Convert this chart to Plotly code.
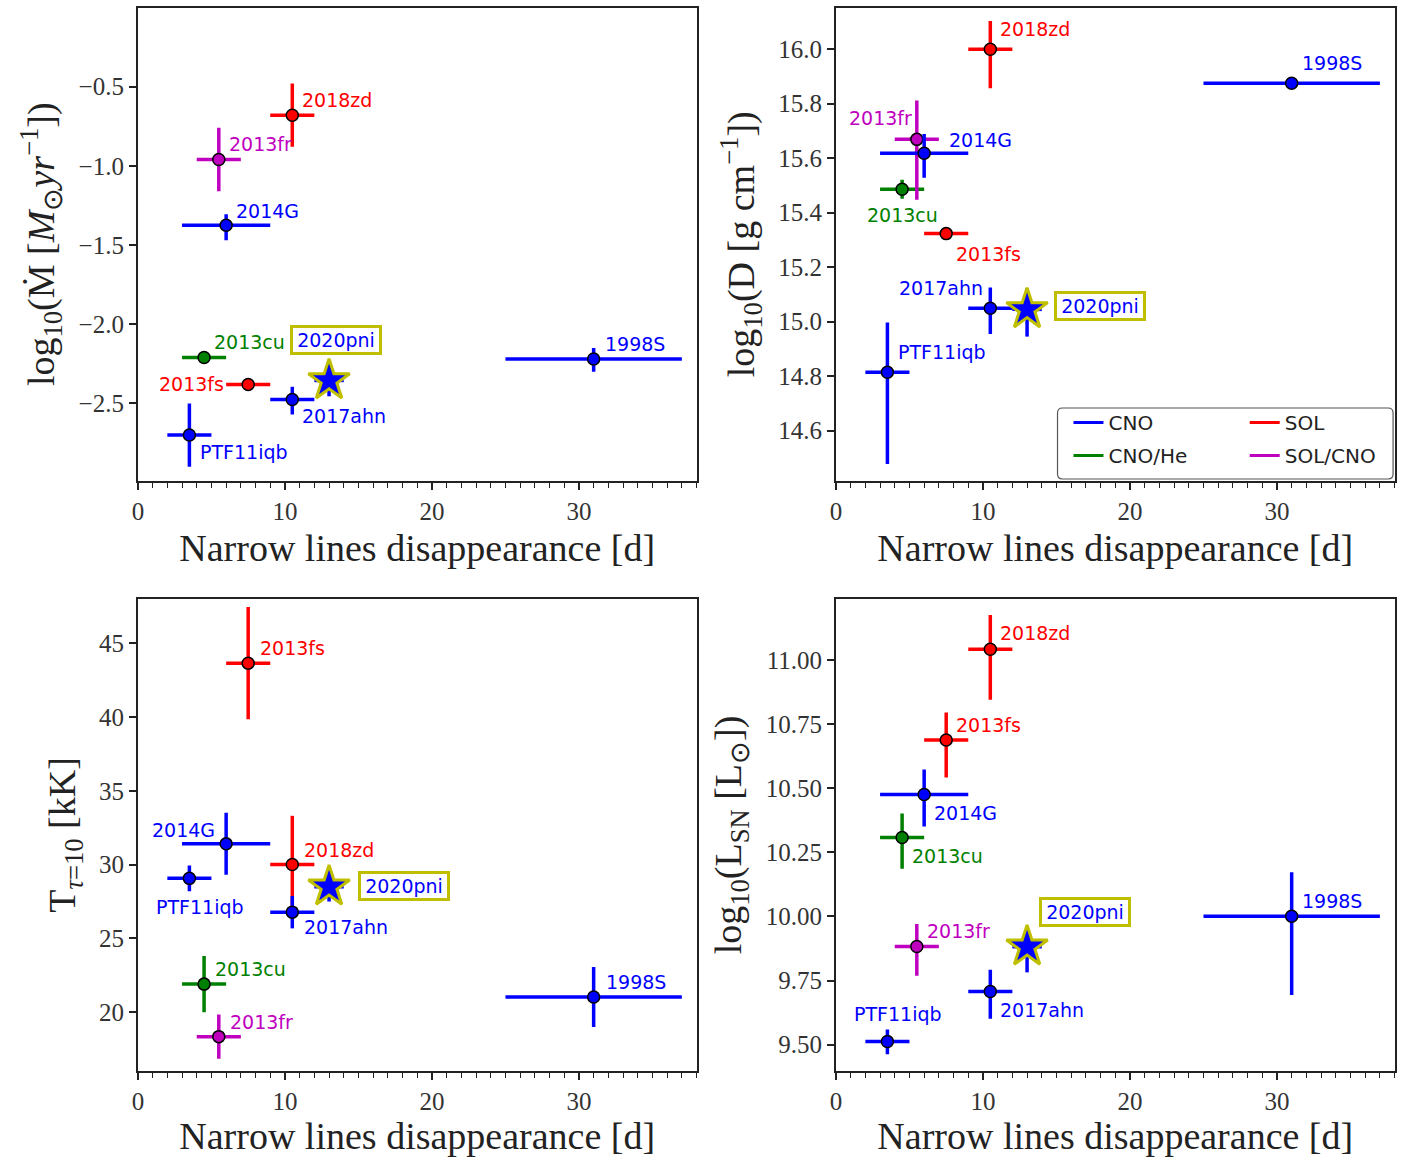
import plotly.graph_objects as go

# ---------------- data ----------------
names = ["PTF11iqb", "2013cu", "2013fr", "2014G", "2013fs", "2018zd", "2017ahn", "1998S", "2020pni"]
composition = ["CNO", "CNO/He", "SOL/CNO", "CNO", "SOL", "SOL", "CNO", "CNO", "CNO"]

t_narrow = [3.5, 4.5, 5.5, 6.0, 7.5, 10.5, 10.5, 31.0, 13.0]
t_narrow_err = [1.5, 1.5, 1.5, 3.0, 1.5, 1.5, 1.5, 6.0, 1.0]

log_mdot = [-2.70, -2.21, -0.96, -1.375, -2.38, -0.68, -2.475, -2.22, -2.355]
log_mdot_up = [0.20, 0.0, 0.20, 0.07, 0.0, 0.20, 0.08, 0.07, 0.08]
log_mdot_lo = [0.20, 0.0, 0.20, 0.095, 0.0, 0.20, 0.095, 0.08, 0.10]

log_D = [14.814, 15.486, 15.669, 15.618, 15.323, 16.0, 15.049, 15.875, 15.045]
log_D_up = [0.183, 0.035, 0.143, 0.071, 0.0, 0.103, 0.076, 0.0, 0.078]
log_D_lo = [0.337, 0.035, 0.222, 0.090, 0.0, 0.143, 0.094, 0.0, 0.100]

T_tau10 = [29.06, 21.89, 18.33, 31.4, 43.65, 30.0, 26.77, 21.02, 28.49]
T_tau10_up = [0.87, 1.9, 1.5, 2.1, 3.8, 3.3, 1.1, 2.03, 1.0]
T_tau10_lo = [0.87, 1.9, 1.5, 2.1, 3.8, 3.3, 1.1, 2.03, 1.0]

log_L = [9.512, 10.308, 9.883, 10.476, 10.689, 11.043, 9.707, 10.001, 9.882]
log_L_up = [0.047, 0.094, 0.088, 0.098, 0.107, 0.134, 0.085, 0.172, 0.08]
log_L_lo = [0.050, 0.122, 0.114, 0.125, 0.147, 0.197, 0.106, 0.307, 0.10]

legend_items = ["CNO", "SOL", "CNO/He", "SOL/CNO"]

ticks_mdot = [-2.5, -2.0, -1.5, -1.0, -0.5]
ticks_D = [14.6, 14.8, 15.0, 15.2, 15.4, 15.6, 15.8, 16.0]
ticks_T = [20, 25, 30, 35, 40, 45]
ticks_L = [9.50, 9.75, 10.00, 10.25, 10.50, 10.75, 11.00]
ticks_x = [0, 10, 20, 30]

# ---------------- styles ----------------
COLORS = {"CNO": "#0000ff", "SOL": "#ff0000", "CNO/He": "#008000", "SOL/CNO": "#bf00bf"}
STAR_EDGE = "#bfbf00"
W, H = 1413, 1157
AXCOL = "#222222"
SERIF = "Liberation Serif, Times New Roman, serif"
SANS = "DejaVu Sans, Verdana, sans-serif"

# panel pixel boxes (left, right, top, bottom)
XDOM = [(132.5, 693.5), (833.5, 1394.5)]
YDOM = [(7.5, 481.0), (599.0, 1071.0)]

# label offsets (dx px, dy px downward, xanchor) per panel
OFFS = [
    {"PTF11iqb": (9, 17, "left"), "2013cu": (8, -15, "left"), "2013fr": (8, -16, "left"),
     "2014G": (8, -14, "left"), "2013fs": (-22, 0, "right"), "2018zd": (8, -15, "left"),
     "2017ahn": (8, 17, "left"), "1998S": (9, -15, "left"), "2020pni": (-39, -40, "left")},
    {"PTF11iqb": (9, -20, "left"), "2013cu": (0, 26, "center"), "2013fr": (-3, -21, "right"),
     "2014G": (23, -13, "left"), "2013fs": (8, 20, "left"), "2018zd": (8, -20, "left"),
     "2017ahn": (-5, -20, "right"), "1998S": (8, -20, "left"), "2020pni": (27, -3, "left")},
    {"PTF11iqb": (-35, 29, "left"), "2013cu": (9, -15, "left"), "2013fr": (9, -15, "left"),
     "2014G": (-9, -14, "right"), "2013fs": (10, -15, "left"), "2018zd": (10, -15, "left"),
     "2017ahn": (10, 15, "left"), "1998S": (10, -15, "left"), "2020pni": (29, -1, "left")},
    {"PTF11iqb": (-35, -28, "left"), "2013cu": (8, 18, "left"), "2013fr": (8, -15, "left"),
     "2014G": (8, 18, "left"), "2013fs": (8, -15, "left"), "2018zd": (8, -16, "left"),
     "2017ahn": (8, 18, "left"), "1998S": (8, -15, "left"), "2020pni": (12, -35, "left")},
]

panels = [
    dict(y=log_mdot, up=log_mdot_up, lo=log_mdot_lo, rng=[-2.99, 0.0], ticks=ticks_mdot, fmt=".1f",
         title="log<sub>10</sub>(Ṁ [<i>M</i><sub>⊙</sub><i>yr</i><sup>−1</sup>])", standoff=12),
    dict(y=log_D, up=log_D_up, lo=log_D_lo, rng=[14.415, 16.153], ticks=ticks_D, fmt=".1f",
         title="log<sub>10</sub>(D [g cm<sup>−1</sup>])", standoff=12),
    dict(y=T_tau10, up=T_tau10_up, lo=T_tau10_lo, rng=[16.0, 48.0], ticks=ticks_T, fmt="d",
         title="T<sub><i>τ</i>=10</sub> [kK]", standoff=12),
    dict(y=log_L, up=log_L_up, lo=log_L_lo, rng=[9.397, 11.239], ticks=ticks_L, fmt=".2f",
         title="log<sub>10</sub>(L<sub>SN</sub> [L<sub>⊙</sub>])", standoff=12),
]

fig = go.Figure()
annotations = []
layout = {}

for p, pan in enumerate(panels):
    col, row = p % 2, p // 2
    ax = "" if p == 0 else str(p + 1)
    xref, yref = "x" + ax, "y" + ax
    xl, xr = XDOM[col]
    yt, yb = YDOM[row]
    layout["xaxis" + ax] = dict(
        domain=[xl / W, xr / W], anchor=yref, range=[0, 38], tickvals=ticks_x,
        showline=True, linecolor=AXCOL, linewidth=2, mirror=True, showgrid=False, zeroline=False,
        ticks="outside", ticklen=7, tickwidth=1.5, tickcolor=AXCOL,
        minor=dict(dtick=1, ticks="outside", ticklen=5, tickwidth=1.2, tickcolor=AXCOL, showgrid=False),
        tickfont=dict(family=SERIF, size=25, color="#333"),
        title=dict(text="Narrow lines disappearance [d]", font=dict(family=SERIF, size=38, color=AXCOL), standoff=10),
    )
    layout["yaxis" + ax] = dict(
        domain=[1 - yb / H, 1 - yt / H], anchor=xref, range=pan["rng"], tickvals=pan["ticks"],
        tickformat=pan["fmt"],
        showline=True, linecolor=AXCOL, linewidth=2, mirror=True, showgrid=False, zeroline=False,
        ticks="outside", ticklen=7, tickwidth=1.5, tickcolor=AXCOL,
        tickfont=dict(family=SERIF, size=25, color="#333"),
        title=dict(text=pan["title"], font=dict(family=SERIF, size=38, color=AXCOL), standoff=pan["standoff"]),
    )
    for i, nm in enumerate(names):
        c = COLORS[composition[i]]
        is_star = nm == "2020pni"
        ey = dict(type="data", symmetric=False, array=[pan["up"][i]], arrayminus=[pan["lo"][i]],
                  thickness=3.5, width=0, color=c)
        ex = dict(type="data", array=[t_narrow_err[i]], thickness=3.5, width=0, color=c)
        if is_star:
            marker = dict(symbol="star", size=31, color=c, line=dict(color=STAR_EDGE, width=3))
        else:
            marker = dict(symbol="circle", size=12, color=c, line=dict(color="black", width=1.5))
        fig.add_trace(go.Scatter(
            x=[t_narrow[i]], y=[pan["y"][i]], mode="markers", marker=marker,
            error_x=ex, error_y=ey, xaxis=xref, yaxis=yref, showlegend=False, name=nm,
        ))
        dx, dy, anc = OFFS[p][nm]
        ann = dict(x=t_narrow[i], y=pan["y"][i], xref=xref, yref=yref, text=nm, showarrow=False,
                   xanchor=anc, yanchor="middle", xshift=dx, yshift=-dy,
                   font=dict(family=SANS, size=19, color=c))
        if is_star:
            ann.update(bordercolor=STAR_EDGE, borderwidth=3, borderpad=0, bgcolor="white",
                       width=86, height=24, align="center")
        annotations.append(ann)

# legend entries (two columns via two legends)
for j, item in enumerate(legend_items):
    fig.add_trace(go.Scatter(
        x=[None], y=[None], mode="lines", line=dict(color=COLORS[item], width=3),
        name=item, xaxis="x2", yaxis="y2", legendgroup=item,
        legend="legend" if j % 2 == 0 else "legend2",
    ))

leg_common = dict(font=dict(family=SANS, size=20, color=AXCOL), bgcolor="rgba(0,0,0,0)",
                  borderwidth=0, xanchor="left", yanchor="top", tracegroupgap=4,
                  traceorder="grouped", itemwidth=30)
layout["legend"] = dict(x=1067 / W, y=1 - 403 / H, **leg_common)
layout["legend2"] = dict(x=1244 / W, y=1 - 403 / H, **leg_common)

# legend frame
bx0, bx1, by0, by1, r = 1056, 1393, 408, 479, 5
def px(x):
    return x / W
def py(y):
    return 1 - y / H
path = (f"M {px(bx0 + r)},{py(by0)} L {px(bx1 - r)},{py(by0)} "
        f"Q {px(bx1)},{py(by0)} {px(bx1)},{py(by0 + r)} L {px(bx1)},{py(by1 - r)} "
        f"Q {px(bx1)},{py(by1)} {px(bx1 - r)},{py(by1)} L {px(bx0 + r)},{py(by1)} "
        f"Q {px(bx0)},{py(by1)} {px(bx0)},{py(by1 - r)} L {px(bx0)},{py(by0 + r)} "
        f"Q {px(bx0)},{py(by0)} {px(bx0 + r)},{py(by0)} Z")
shapes = [dict(type="path", xref="paper", yref="paper", path=path,
               line=dict(color="#555555", width=1.2), fillcolor="white", layer="below")]

fig.update_layout(
    width=W, height=H, margin=dict(l=0, r=0, t=0, b=0),
    paper_bgcolor="white", plot_bgcolor="white",
    annotations=annotations, shapes=shapes, showlegend=True, **layout,
)

fig.write_html("out.html", config={"displayModeBar": False},
               post_script="document.body.style.margin='0';document.body.style.padding='0';document.body.style.overflow='hidden';")
